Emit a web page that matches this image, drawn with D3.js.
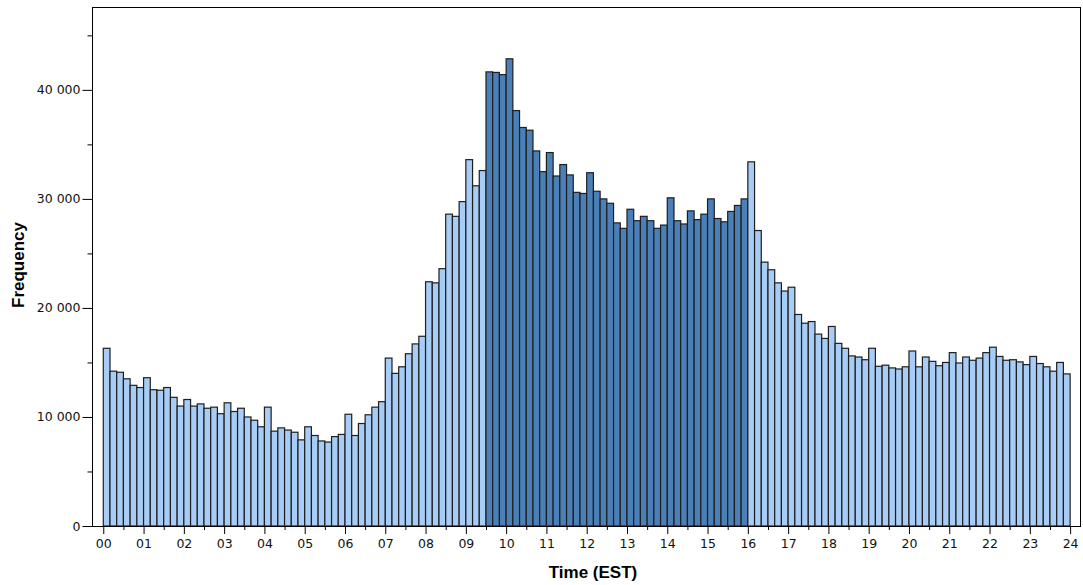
<!DOCTYPE html>
<html>
<head>
<meta charset="utf-8">
<script src="https://cdn.jsdelivr.net/npm/d3@7"></script>
<style>
  html, body { margin: 0; padding: 0; background: #fff; }
  svg { display: block; }
</style>
</head>
<body>
<svg id="chart" width="1083" height="585"></svg>
<script>
// ---- data ----
const hourLabels = ["00","01","02","03","04","05","06","07","08","09","10","11","12",
                    "13","14","15","16","17","18","19","20","21","22","23","24"];
const binMinutes = 10;
const marketOpen = 9.5;   // hours
const marketClose = 16;   // hours
const frequency = [
  16300, 14200, 14100, 13500, 12900, 12700,
  13600, 12500, 12450, 12700, 11800, 11000,
  11600, 11000, 11200, 10800, 10900, 10300,
  11300, 10500, 10800, 10000,  9700,  9100,
  10900,  8700,  9000,  8800,  8600,  7900,
   9100,  8300,  7800,  7700,  8200,  8400,
  10250,  8300,  9400, 10200, 10900, 11400,
  15400, 14000, 14600, 15800, 16700, 17400,
  22400, 22300, 23600, 28600, 28400, 29750,
  33600, 31200, 32600, 41650, 41600, 41400,
  42850, 38100, 36550, 36300, 34400, 32500,
  34250, 32100, 33150, 32200, 30600, 30500,
  32400, 30700, 30000, 29600, 27800, 27300,
  29050, 28000, 28400, 28000, 27300, 27600,
  30100, 28000, 27700, 28900, 28100, 28600,
  30000, 28200, 27900, 28850, 29400, 30000,
  33400, 27100, 24200, 23500, 22300, 21550,
  21900, 19400, 18600, 18750, 17600, 17200,
  18300, 16750, 16300, 15600, 15500, 15250,
  16300, 14650, 14750, 14500, 14400, 14600,
  16050, 14600, 15500, 15100, 14700, 15000,
  15900, 14950, 15500, 15200, 15400, 15900,
  16400, 15550, 15200, 15250, 15050, 14800,
  15550, 14900, 14600, 14200, 15000, 13950
];
const yMajorTicks = [0, 10000, 20000, 30000, 40000];
const yMinorTicks = [5000, 15000, 25000, 35000, 45000];

// ---- layout ----
const svg = d3.select("#chart");
const mLeft = 92, mRight = 1081, mTop = 7, mBottom = 526;

const x = d3.scaleLinear().domain([-0.28, 24.27]).range([mLeft, mRight]);
const y = d3.scaleLinear().domain([0, 47600]).range([mBottom, mTop]);

const locale = d3.formatLocale({decimal: ".", thousands: " ", grouping: [3], currency: ["", ""]});
const fmt = locale.format(",d");

const lightColor = "#a7cdf6";
const darkColor = "#4a80b7";

// bars
const bins = frequency.map((v, i) => ({start: i * binMinutes / 60, end: (i + 1) * binMinutes / 60, v}));
svg.append("g").selectAll("rect").data(bins).join("rect")
  .attr("x", d => x(d.start))
  .attr("width", d => x(d.end) - x(d.start))
  .attr("y", d => y(d.v))
  .attr("height", d => y(0) - y(d.v))
  .attr("fill", d => (d.start >= marketOpen && d.start < marketClose) ? darkColor : lightColor)
  .attr("stroke", "#1e1e1e")
  .attr("stroke-width", 1.2);

// frame
svg.append("rect")
  .attr("x", mLeft + 0.5).attr("y", mTop + 0.5)
  .attr("width", mRight - mLeft - 1).attr("height", mBottom - mTop)
  .attr("fill", "none").attr("stroke", "#000").attr("stroke-width", 1);

// y axis
const yAxis = d3.axisLeft(y).tickValues(yMajorTicks).tickFormat(fmt).tickSize(10).tickPadding(2);
const gy = svg.append("g").attr("transform", `translate(${mLeft + 0.5},0)`).call(yAxis);
gy.select(".domain").remove();
gy.selectAll("text").attr("font-family", "DejaVu Sans, Verdana, sans-serif").attr("font-size", 12.5).attr("fill", "#111");
gy.selectAll(".tick line").attr("stroke", "#000");
const yMinor = d3.axisLeft(y).tickValues(yMinorTicks).tickFormat("").tickSize(5);
const gym = svg.append("g").attr("transform", `translate(${mLeft + 0.5},0)`).call(yMinor);
gym.select(".domain").remove();

// x axis
const xMajor = d3.range(0, 25);
const xMinor = d3.range(0, 24).map(h => h + 0.5);
const xAxis = d3.axisBottom(x).tickValues(xMajor).tickFormat(d => hourLabels[d]).tickSize(8).tickPadding(5);
const gx = svg.append("g").attr("transform", `translate(0,${mBottom})`).call(xAxis);
gx.select(".domain").remove();
gx.selectAll("text").attr("font-family", "DejaVu Sans, Verdana, sans-serif").attr("font-size", 12.5).attr("fill", "#111");
gx.selectAll(".tick line").attr("stroke", "#000");
const gxm = svg.append("g").attr("transform", `translate(0,${mBottom})`)
  .call(d3.axisBottom(x).tickValues(xMinor).tickFormat("").tickSize(4));
gxm.select(".domain").remove();

// axis titles
svg.append("text")
  .attr("x", 593).attr("y", 578)
  .attr("text-anchor", "middle")
  .attr("font-family", "Liberation Sans, Arial, sans-serif")
  .attr("font-weight", "bold").attr("font-size", 17)
  .text("Time (EST)");
svg.append("text")
  .attr("transform", "translate(24,265) rotate(-90)")
  .attr("text-anchor", "middle")
  .attr("font-family", "Liberation Sans, Arial, sans-serif")
  .attr("font-weight", "bold").attr("font-size", 17)
  .text("Frequency");
</script>
</body>
</html>
